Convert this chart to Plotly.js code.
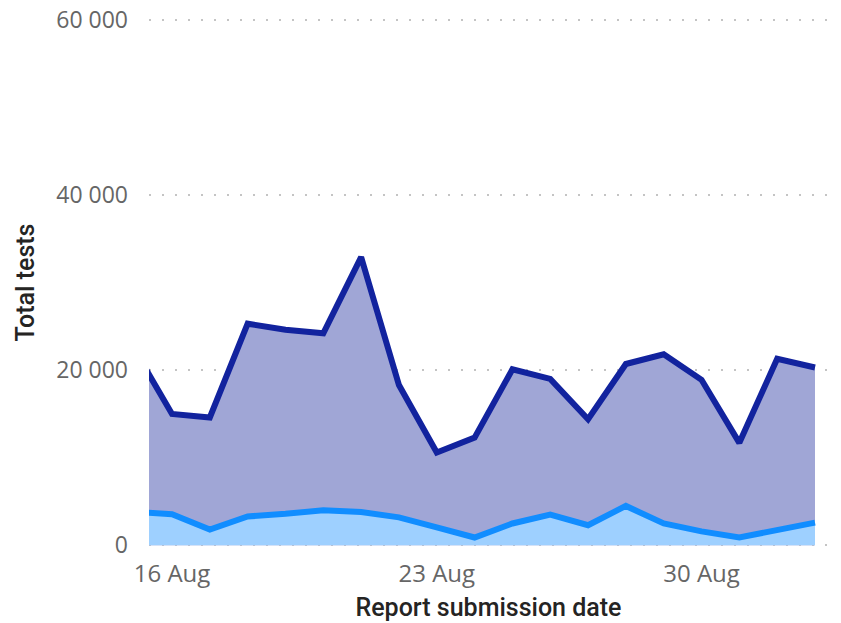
<!DOCTYPE html>
<html>
<head>
<meta charset="utf-8">
<script src="https://cdn.plot.ly/plotly-3.0.1.min.js"></script>
<style>
  html, body { margin: 0; padding: 0; background: #fff; }
  #chart { width: 841px; height: 623px; }
</style>
</head>
<body>
<div id="chart"></div>
<script>
// Report submission dates (daily)
const dates = [
  "2020-08-15","2020-08-16","2020-08-17","2020-08-18","2020-08-19","2020-08-20",
  "2020-08-21","2020-08-22","2020-08-23","2020-08-24","2020-08-25","2020-08-26",
  "2020-08-27","2020-08-28","2020-08-29","2020-08-30","2020-08-31","2020-09-01",
  "2020-09-02"
];
// Total tests (dark series)
const totalTests = [
  22400, 15000, 14600, 25300, 24600, 24200,
  32900, 18300, 10600, 12300, 20100, 19000,
  14400, 20700, 21800, 18900, 11700, 21300,
  20300
];
// Second series (light series)
const secondSeries = [
  3850, 3550, 1800, 3300, 3600, 4000,
  3800, 3200, 2050, 900, 2500, 3500,
  2300, 4500, 2500, 1600, 900, 1700,
  2600
];
// Axis ticks
const yTickVals = [0, 20000, 40000, 60000];
const yTickText = ["0", "20 000", "40 000", "60 000"];
const xTickVals = ["2020-08-16", "2020-08-23", "2020-08-30"];
const xTickText = ["16 Aug", "23 Aug", "30 Aug"];

const traces = [
  {
    x: dates, y: totalTests, type: "scatter", mode: "lines",
    fill: "tozeroy", fillcolor: "rgb(160,166,214)",
    line: { color: "#12239E", width: 6, shape: "linear" },
    hoverinfo: "skip", showlegend: false
  },
  {
    x: dates, y: secondSeries, type: "scatter", mode: "lines",
    fill: "tozeroy", fillcolor: "rgb(158,208,255)",
    line: { color: "#118DFF", width: 6, shape: "linear" },
    hoverinfo: "skip", showlegend: false
  }
];

const layout = {
  width: 841, height: 623,
  margin: { l: 149, r: 13, t: 17, b: 75 },
  paper_bgcolor: "#ffffff", plot_bgcolor: "#ffffff",
  showlegend: false,
  xaxis: {
    type: "date",
    range: ["2020-08-15 09:24", "2020-09-02 08:15"],
    tickvals: xTickVals, ticktext: xTickText,
    showgrid: false, zeroline: false, showline: false, ticks: "",
    tickfont: { family: "Open Sans, Noto Sans, sans-serif", size: 24, color: "#666666" },
    ticklabelstandoff: 9,
    title: {
      text: "Report submission date",
      font: { family: "Roboto, Lato, sans-serif", size: 25, color: "#252423", weight: 500 },
      standoff: 10
    },
    fixedrange: true
  },
  yaxis: {
    range: [-300, 60300],
    tickvals: yTickVals, ticktext: yTickText,
    showgrid: true, gridcolor: "#c4c4c4", gridwidth: 2, griddash: "2px,11px",
    zeroline: false, showline: false, ticks: "",
    tickfont: { family: "Open Sans, Noto Sans, sans-serif", size: 23, color: "#666666" },
    ticklabelstandoff: 20,
    title: {
      text: "Total tests",
      font: { family: "Roboto, Lato, sans-serif", size: 25, color: "#252423", weight: 500 },
      standoff: 14
    },
    fixedrange: true
  }
};

Plotly.newPlot("chart", traces, layout, { displayModeBar: false, staticPlot: true });
</script>
</body>
</html>
